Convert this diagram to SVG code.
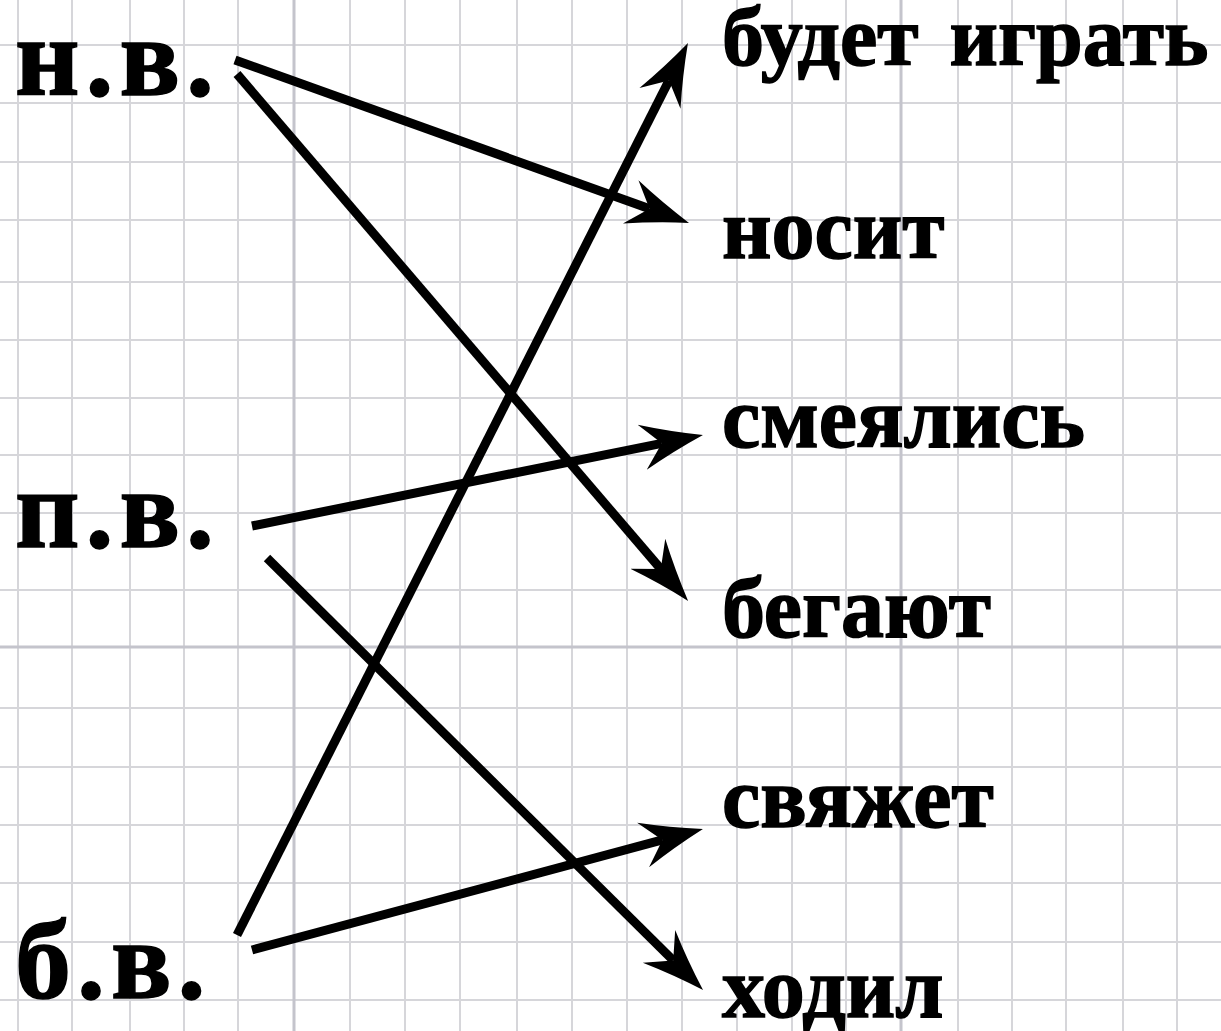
<svg xmlns="http://www.w3.org/2000/svg" width="1221" height="1031" viewBox="0 0 1221 1031">
<defs>
<style>
.g{stroke:#d6d6da;stroke-width:2}
.gd{stroke:#c4c4cc;stroke-width:3}
.lbl{font-family:"Liberation Serif","Times New Roman",serif;font-weight:bold;fill:#000;stroke:#000;stroke-width:1.5}
.big{font-size:112px;letter-spacing:6px}
.sm{font-size:86px}
.c{stroke:#000;stroke-width:9;fill:none;marker-end:url(#ah)}
</style>
<marker id="ah" markerUnits="userSpaceOnUse" viewBox="0 -25 64 50" refX="20" refY="0" markerWidth="64" markerHeight="50" orient="auto">
<path d="M62,0 Q30,-10 0,-23 L20,0 L0,23 Q30,10 62,0 Z" fill="#000"/>
</marker>
</defs>
<rect width="1221" height="1031" fill="#ffffff"/>
<g id="grid">
<g class="g">
<line x1="18" y1="0" x2="18" y2="1031"/>
<line x1="72" y1="0" x2="72" y2="1031"/>
<line x1="130" y1="0" x2="130" y2="1031"/>
<line x1="184" y1="0" x2="184" y2="1031"/>
<line x1="238" y1="0" x2="238" y2="1031"/>
<line x1="350" y1="0" x2="350" y2="1031"/>
<line x1="405" y1="0" x2="405" y2="1031"/>
<line x1="460" y1="0" x2="460" y2="1031"/>
<line x1="517" y1="0" x2="517" y2="1031"/>
<line x1="572" y1="0" x2="572" y2="1031"/>
<line x1="627" y1="0" x2="627" y2="1031"/>
<line x1="682" y1="0" x2="682" y2="1031"/>
<line x1="737" y1="0" x2="737" y2="1031"/>
<line x1="792" y1="0" x2="792" y2="1031"/>
<line x1="846" y1="0" x2="846" y2="1031"/>
<line x1="958" y1="0" x2="958" y2="1031"/>
<line x1="1012" y1="0" x2="1012" y2="1031"/>
<line x1="1066" y1="0" x2="1066" y2="1031"/>
<line x1="1123" y1="0" x2="1123" y2="1031"/>
<line x1="1177" y1="0" x2="1177" y2="1031"/>
<line x1="0" y1="45" x2="1221" y2="45"/>
<line x1="0" y1="103" x2="1221" y2="103"/>
<line x1="0" y1="162" x2="1221" y2="162"/>
<line x1="0" y1="220" x2="1221" y2="220"/>
<line x1="0" y1="282" x2="1221" y2="282"/>
<line x1="0" y1="340" x2="1221" y2="340"/>
<line x1="0" y1="398" x2="1221" y2="398"/>
<line x1="0" y1="455" x2="1221" y2="455"/>
<line x1="0" y1="513" x2="1221" y2="513"/>
<line x1="0" y1="590" x2="1221" y2="590"/>
<line x1="0" y1="708" x2="1221" y2="708"/>
<line x1="0" y1="767" x2="1221" y2="767"/>
<line x1="0" y1="825" x2="1221" y2="825"/>
<line x1="0" y1="883" x2="1221" y2="883"/>
<line x1="0" y1="942" x2="1221" y2="942"/>
<line x1="0" y1="1000" x2="1221" y2="1000"/>
</g>
<g class="gd">
<line x1="294" y1="0" x2="294" y2="1031"/>
<line x1="901" y1="0" x2="901" y2="1031"/>
<line x1="0" y1="647" x2="1221" y2="647"/>
</g>
</g>
<g id="connectors">
<path class="c" d="M235,60 L649.5,208.7"/>
<path class="c" d="M237,74 L660.8,569"/>
<path class="c" d="M237,935 L669,80.5"/>
<path class="c" d="M252,526 L661.8,443.3"/>
<path class="c" d="M267,558 L673.2,960.4"/>
<path class="c" d="M252,950 L662.4,839.9"/>
</g>
<g id="node-nv"><text class="lbl big" x="15" y="95">н.в.</text></g>
<g id="node-pv"><text class="lbl big" x="15" y="547">п.в.</text></g>
<g id="node-bv"><text class="lbl big" x="15" y="998">б.в.</text></g>
<g id="node-budet"><text class="lbl" x="722" y="65" font-size="84" word-spacing="10">будет играть</text></g>
<g id="node-nosit"><text class="lbl sm" x="722" y="258">носит</text></g>
<g id="node-smeyalis"><text class="lbl sm" x="722" y="447">смеялись</text></g>
<g id="node-begayut"><text class="lbl sm" x="722" y="637">бегают</text></g>
<g id="node-svyazhet"><text class="lbl sm" x="722" y="827">свяжет</text></g>
<g id="node-hodil"><text class="lbl sm" x="722" y="1017">ходил</text></g>
</svg>
